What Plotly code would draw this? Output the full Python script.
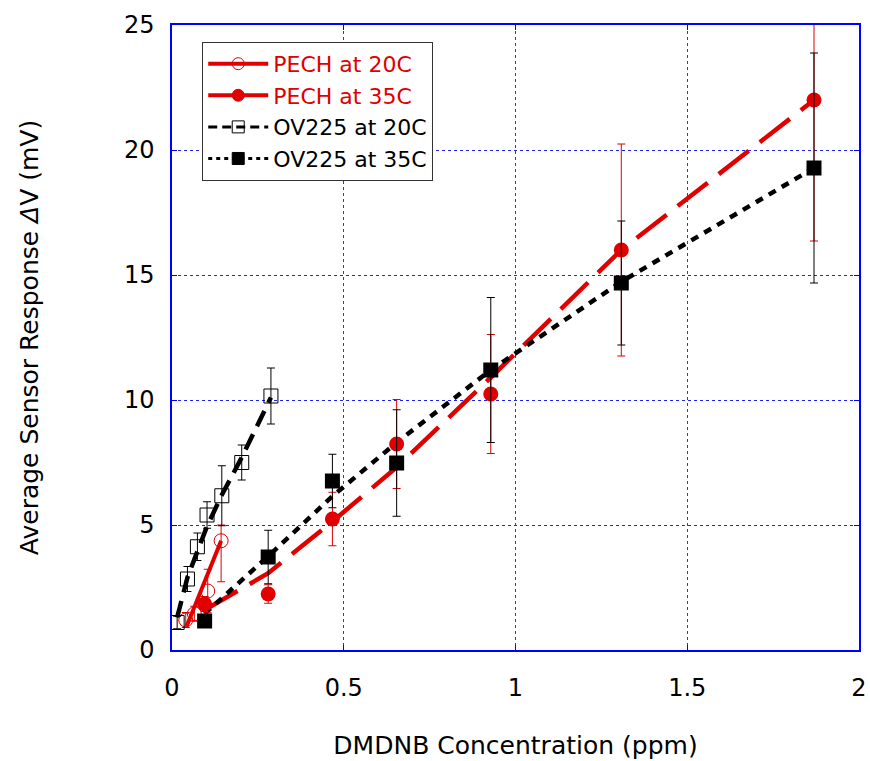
import plotly.graph_objects as go

# ---------------- data ----------------
pech20_x = [0.040, 0.065, 0.104, 0.143]
pech20_y = [1.20, 1.45, 2.36, 4.37]
pech20_err_plus = [0.30, 0.30, 0.87, 0.63]
pech20_err_minus = [0.30, 0.30, 0.87, 1.64]
pech20_fit_x = [0.042, 0.143]
pech20_fit_y = [0.93, 4.37]

pech35_x = [0.095, 0.28, 0.467, 0.654, 0.928, 1.308, 1.869]
pech35_y = [1.84, 2.24, 5.24, 8.24, 10.24, 16.0, 22.0]
pech35_err = [0.30, 0.37, 1.07, 1.78, 2.38, 4.24, 5.64]
pech35_fit_y = [1.60, 3.07, 5.14, 7.31, 10.90, 16.0, 22.0]

ov20_x = [0.015, 0.045, 0.074, 0.102, 0.145, 0.203, 0.288]
ov20_y = [1.10, 2.84, 4.13, 5.40, 6.17, 7.50, 10.16]
ov20_err = [0.25, 0.50, 0.55, 0.53, 1.20, 0.70, 1.12]
ov20_fit_y = [1.30, 2.90, 3.95, 4.95, 6.20, 7.70, 10.10]

ov35_x = [0.095, 0.28, 0.467, 0.654, 0.928, 1.308, 1.869]
ov35_y = [1.16, 3.72, 6.76, 7.48, 11.20, 14.68, 19.28]
ov35_err = [0.15, 1.07, 1.07, 2.13, 2.90, 2.48, 4.60]
ov35_fit_y = [1.45, 3.75, 6.15, 8.30, 11.20, 14.73, 19.28]

names = ["PECH at 20C", "PECH at 35C", "OV225 at 20C", "OV225 at 35C"]
x_ticks = [0, 0.5, 1, 1.5, 2]
x_ticklabels = ["0", "0.5", "1", "1.5", "2"]
y_ticks = [0, 5, 10, 15, 20, 25]

RED = "#e00000"
BLACK = "#000000"
FONT = "DejaVu Sans, Liberation Sans, Arial, sans-serif"

fig = go.Figure()

# fit lines
fig.add_trace(go.Scatter(x=pech20_fit_x, y=pech20_fit_y, mode="lines",
                         line=dict(color=RED, width=4), showlegend=False))
fig.add_trace(go.Scatter(x=ov20_x, y=ov20_fit_y, mode="lines",
                         line=dict(color=BLACK, width=4.5, dash="17px,9px"), showlegend=False))
fig.add_trace(go.Scatter(x=pech35_x, y=pech35_fit_y, mode="lines",
                         line=dict(color=RED, width=4.5, dash="38px,14px"), showlegend=False))
fig.add_trace(go.Scatter(x=ov35_x, y=ov35_fit_y, mode="lines",
                         line=dict(color=BLACK, width=4.5, dash="8px,7px"), showlegend=False))

# data markers with error bars
fig.add_trace(go.Scatter(x=pech35_x, y=pech35_y, mode="markers",
                         marker=dict(symbol="circle", size=15, color=RED),
                         error_y=dict(type="data", array=pech35_err, color=RED, thickness=1, width=4),
                         showlegend=False))
fig.add_trace(go.Scatter(x=pech20_x, y=pech20_y, mode="markers",
                         marker=dict(symbol="circle-open", size=14, color=RED, line=dict(width=1)),
                         error_y=dict(type="data", array=pech20_err_plus, arrayminus=pech20_err_minus,
                                      color=RED, thickness=1, width=4),
                         showlegend=False))
fig.add_trace(go.Scatter(x=ov35_x, y=ov35_y, mode="markers",
                         marker=dict(symbol="square", size=15, color=BLACK),
                         error_y=dict(type="data", array=ov35_err, color=BLACK, thickness=1, width=4),
                         showlegend=False))
fig.add_trace(go.Scatter(x=ov20_x, y=ov20_y, mode="markers",
                         marker=dict(symbol="square-open", size=14, color=BLACK, line=dict(width=1)),
                         error_y=dict(type="data", array=ov20_err, color=BLACK, thickness=1, width=4),
                         showlegend=False))

# legend entries
legend_specs = [
    (names[0], RED, "solid", "circle-open", 4),
    (names[1], RED, "solid", "circle", 4),
    (names[2], BLACK, "9px,5px", "square-open", 3),
    (names[3], BLACK, "4px,4px", "square", 3),
]
for nm, col, dash, sym, w in legend_specs:
    fig.add_trace(go.Scatter(x=[None], y=[None], mode="lines+markers",
                             name=f"<span style='color:{col}'>{nm}</span>",
                             line=dict(color=col, width=w, dash=dash),
                             marker=dict(symbol=sym, size=12, color=col, line=dict(width=1, color=col))))

axis_common = dict(
    showline=True, linecolor="blue", linewidth=1.5, mirror="ticks",
    showgrid=True, gridwidth=1, griddash="dot",
    ticks="inside", ticklen=5, tickcolor="blue",
    zeroline=False, automargin=False,
    tickfont=dict(family=FONT, size=24, color="black"),
)

fig.update_xaxes(range=[0, 2], tickvals=x_ticks, ticktext=x_ticklabels, gridcolor="#3030ff",
                 title=dict(text="DMDNB Concentration (ppm)", font=dict(family=FONT, size=25, color="black"),
                            standoff=36),
                 ticklabelstandoff=15, **axis_common)
fig.update_yaxes(range=[0, 25], tickvals=y_ticks, gridcolor="#2222ee",
                 title=dict(text="Average Sensor Response <i>Δ</i>V (mV)",
                            font=dict(family=FONT, size=25, color="black"), standoff=78),
                 ticklabelstandoff=11, **axis_common)

fig.update_layout(
    width=870, height=761,
    margin=dict(l=172, r=11, t=25, b=111),
    plot_bgcolor="white", paper_bgcolor="white",
    font=dict(family=FONT, size=22, color="black"),
    legend=dict(x=0.044, y=0.973, xanchor="left", yanchor="top",
                bgcolor="white", bordercolor="#333333", borderwidth=1,
                font=dict(family=FONT, size=22), itemwidth=60, tracegroupgap=0,
                traceorder="normal"),
)

# remove the browser's default 8px body margin so the 870x761 figure fills the window exactly
fig.write_html("out.html", config={"displayModeBar": False},
               post_script="document.body.style.margin='0px';document.body.style.overflow='hidden';")
